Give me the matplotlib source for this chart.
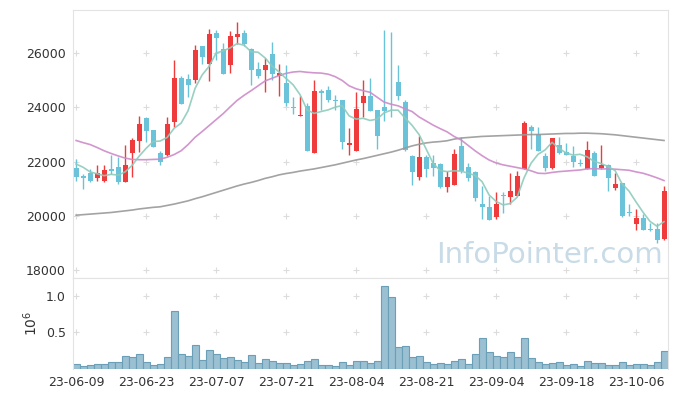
import matplotlib.pyplot as plt
import numpy as np

# x축 눈금 (10 거래일 간격)
tick_pos = [0, 10, 20, 30, 40, 50, 60, 70, 80]
tick_labels = ["23-06-09", "23-06-23", "23-07-07", "23-07-21", "23-08-04",
               "23-08-21", "23-09-04", "23-09-18", "23-10-06"]
price_ticks = [18000, 20000, 22000, 24000, 26000]
vol_ticks = [0.5, 1.0]

# 시가 / 고가 / 저가 / 종가
open_ = [21770, 21450, 21570, 21380, 21270, 21740, 21790, 21260, 22330, 22750,
         23620, 23150, 22320, 22260, 23460, 25100, 25040, 25000, 26260, 25620,
         26750, 26170, 25580, 26600, 26750, 26170, 25410, 25370, 25990, 25150,
         24900, 24000, 23680, 24040, 22310, 24600, 24630, 24270, 24260, 22600,
         22380, 24160, 24410, 23890, 24010, 24430, 24940, 24200, 22190, 21420,
         22160, 21940, 21910, 21070, 21150, 22590, 21790, 21630, 20430, 20330,
         19940, 20750, 20680, 20740, 21730, 23270, 23030, 22190, 21750, 22630,
         22350, 22190, 21920, 21730, 22320, 21770, 21890, 21010, 21200, 20110,
         19690, 19910, 19510, 19510, 19140]
high = [22100, 21550, 21730, 21890, 21890, 22260, 22160, 22630, 22860, 23700,
        23640, 23160, 22410, 23640, 25740, 25150, 25250, 26300, 26280, 26910,
        26850, 26380, 26830, 27160, 26850, 26180, 25680, 25840, 26420, 25590,
        25560, 24380, 24410, 24160, 25000, 24690, 24780, 24470, 24270, 23250,
        24570, 25000, 25100, 23900, 26880, 26770, 25560, 24260, 22260, 22930,
        22260, 22260, 21930, 21670, 22460, 22900, 21940, 21640, 21110, 20740,
        20860, 20860, 21570, 21670, 23490, 23370, 23270, 22310, 22880, 22900,
        22680, 22560, 22100, 22750, 22410, 22630, 21900, 21570, 21220, 20430,
        20250, 20060, 19750, 19720, 21110]
low = [21300, 21000, 21230, 21300, 21260, 21540, 21190, 21230, 21440, 22350,
       22720, 22530, 21890, 22220, 23270, 24110, 24380, 24900, 25620, 24980,
       25740, 25220, 25270, 26360, 26260, 24820, 25100, 24570, 25000, 24440,
       24040, 23770, 23680, 22380, 22300, 23890, 24200, 23890, 22470, 22260,
       22380, 23640, 23860, 22470, 23490, 23640, 24260, 22400, 21150, 21320,
       21440, 21480, 21020, 20860, 21150, 21570, 21300, 20560, 19880, 19850,
       19880, 20090, 20430, 20740, 21730, 22470, 22380, 21670, 21720, 22280,
       22250, 21790, 21850, 21730, 21460, 21730, 20930, 20950, 19970, 20000,
       19470, 19470, 19440, 19010, 19100]
close = [21420, 21380, 21300, 21580, 21700, 21670, 21260, 21890, 22780, 23400,
         23120, 22530, 21980, 23400, 25100, 24110, 24820, 26110, 25860, 26700,
         26570, 25220, 26630, 26700, 26360, 25370, 25150, 25560, 25220, 25270,
         24160, 23980, 23740, 22410, 24590, 24530, 24260, 24250, 22720, 22700,
         23930, 24410, 23860, 22960, 23860, 24410, 24410, 22430, 21600, 22160,
         21730, 21770, 21070, 21440, 22280, 21670, 21380, 20660, 20310, 19850,
         20430, 20730, 20930, 21480, 23440, 23120, 22380, 21750, 22880, 22310,
         22260, 21980, 21900, 22430, 21460, 21890, 21400, 21190, 19980, 20090,
         19910, 19470, 19490, 19100, 20930]

# 이동평균선 (5 / 20 / 60일)
ma5 = [21910, 21790, 21620, 21550, 21480, 21530, 21500, 21620, 21860, 22200,
       22490, 22740, 22760, 22890, 23230, 23420, 23880, 24710, 25200, 25520,
       26010, 26090, 26200, 26360, 26300, 26060, 26040, 25830, 25530, 25310,
       25070, 24840, 24470, 23910, 23780, 23850, 23910, 24010, 24070, 23690,
       23570, 23600, 23520, 23570, 23800, 23900, 23900, 23610, 23340, 23000,
       22470, 21940, 21670, 21630, 21660, 21650, 21570, 21490, 21260, 20770,
       20530, 20400, 20450, 20680, 21400, 21940, 22270, 22430, 22710, 22490,
       22320, 22240, 22270, 22180, 22010, 21930, 21820, 21670, 21180, 20910,
       20510, 20130, 19790, 19610, 19780]
ma20 = [22780, 22700, 22630, 22520, 22400, 22300, 22210, 22130, 22080, 22070,
        22070, 22080, 22090, 22160, 22260, 22400, 22630, 22900, 23110, 23330,
        23550, 23770, 24020, 24260, 24450, 24620, 24800, 24980, 25080, 25180,
        25260, 25310, 25330, 25300, 25280, 25270, 25230, 25140, 25000, 24800,
        24690, 24620, 24560, 24380, 24200, 24120, 24060, 23950, 23850, 23650,
        23500, 23350, 23220, 23100, 22930, 22800, 22600, 22400, 22220, 22060,
        21950, 21880, 21830, 21780, 21730, 21660, 21570, 21560, 21600, 21630,
        21650, 21670, 21690, 21730, 21740, 21730, 21730, 21720, 21700, 21680,
        21620, 21570, 21490, 21400, 21300]
ma60 = [20020, 20040, 20060, 20080, 20100, 20120, 20150, 20180, 20210, 20250,
        20280, 20310, 20330, 20380, 20430, 20490, 20550, 20630, 20700, 20780,
        20860, 20940, 21020, 21100, 21170, 21230, 21300, 21380, 21440, 21510,
        21560, 21600, 21650, 21690, 21730, 21780, 21830, 21880, 21940, 22000,
        22060, 22110, 22170, 22230, 22290, 22350, 22420, 22500, 22580, 22640,
        22690, 22720, 22740, 22770, 22830, 22870, 22890, 22910, 22930, 22940,
        22950, 22960, 22970, 22980, 22990, 23000, 23000, 23010, 23020, 23030,
        23040, 23040, 23050, 23050, 23040, 23030, 23010, 22990, 22960, 22930,
        22900, 22870, 22840, 22810, 22780]

# 거래량
volume = [59000, 32000, 45000, 59000, 59000, 87000, 87000, 169000, 156000, 197000,
          87000, 45000, 59000, 156000, 789000, 197000, 169000, 321000, 114000, 252000,
          197000, 142000, 156000, 114000, 87000, 183000, 73000, 128000, 100000, 73000,
          73000, 45000, 59000, 100000, 128000, 45000, 45000, 32000, 87000, 45000,
          100000, 100000, 73000, 100000, 1138000, 982000, 293000, 307000, 156000, 169000,
          87000, 59000, 73000, 59000, 100000, 128000, 59000, 197000, 417000, 224000,
          169000, 156000, 224000, 156000, 417000, 142000, 87000, 59000, 73000, 87000,
          45000, 59000, 32000, 100000, 73000, 73000, 45000, 45000, 87000, 45000,
          59000, 59000, 45000, 87000, 238000]

x = np.arange(len(close))
o = np.array(open_)
c = np.array(close)
colors = np.where(c >= o, "#ef3b3b", "#6bc3da")

fig = plt.figure(figsize=(6.77, 3.96), dpi=100)
ax = fig.add_axes([0.1078, 0.298, 0.8782, 0.6767])
axv = fig.add_axes([0.1078, 0.0692, 0.8782, 0.2288], sharex=ax)

# 캔들
ax.vlines(x, low, high, color=colors, linewidth=1, zorder=2)
ax.bar(x, np.maximum(np.abs(c - o), 30), bottom=np.minimum(o, c), width=0.72,
       color=colors, zorder=3)

# 이동평균
ax.plot(x, ma60, color="#999999", linewidth=1.2, alpha=0.9, zorder=4)
ax.plot(x, ma20, color="#cc8bc9", linewidth=1.2, alpha=0.9, zorder=4)
ax.plot(x, ma5, color="#8ecbbb", linewidth=1.2, alpha=0.9, zorder=4)

# 워터마크
ax.text(0.802, 0.085, "InfoPointer.com", transform=ax.transAxes, ha="center",
        va="center", fontsize=21, color="#c8dbe6", zorder=1)

# 거래량
axv.bar(x, np.array(volume) / 1e6, width=1.0, color="#9ac0d2",
        edgecolor="#6b9fb8", linewidth=0.8)

for a in (ax, axv):
    for s in a.spines.values():
        s.set_color("#e3e3e3")
    a.tick_params(length=0, labelsize=9, labelcolor="#333333", pad=5)

ax.set_xlim(-0.45, 84.5)
ax.set_ylim(17700, 27600)
ax.set_yticks(price_ticks)
ax.set_yticklabels([str(v) for v in price_ticks])
ax.tick_params(axis="x", labelbottom=False)

axv.set_ylim(0, 1.248)
axv.set_yticks(vol_ticks)
axv.set_yticklabels([str(v) for v in vol_ticks])
axv.set_xticks(tick_pos)
axv.set_xticklabels(tick_labels)
axv.spines["bottom"].set_visible(False)
axv.set_ylabel(r"$10^6$", fontsize=10, color="#333333", labelpad=4)

# 격자 '+' 표시
gx, gy = np.meshgrid(tick_pos, price_ticks)
ax.plot(gx.ravel(), gy.ravel(), "+", color="#dcdcdc", markersize=5, mew=0.8, zorder=0)
gx, gy = np.meshgrid(tick_pos, vol_ticks)
axv.plot(gx.ravel(), gy.ravel(), "+", color="#dcdcdc", markersize=5, mew=0.8, zorder=0)

plt.savefig("out.png", dpi=100)
